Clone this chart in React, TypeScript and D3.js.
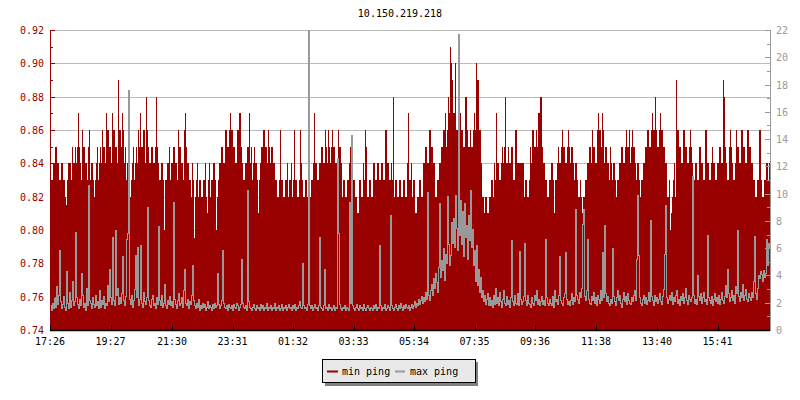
import React from "react";
import * as d3 from "d3";

const TITLE = "10.150.219.218";
const START_TIME = "17:26";
const STEP_MINUTES = 2;
const TOTAL_MINUTES = 1440;

const timeTickLabels = ["17:26", "19:27", "21:30", "23:31", "01:32", "03:33", "05:34", "07:35", "09:36", "11:38", "13:40", "15:41"];
const leftTicks = [0.74, 0.76, 0.78, 0.8, 0.82, 0.84, 0.86, 0.88, 0.9, 0.92];
const rightTicks = [0, 2, 4, 6, 8, 10, 12, 14, 16, 18, 20, 22];
const seriesNames = ["min ping", "max ping"];

const minPing = [
  0.84,0.83,0.83,0.84,0.84,0.85,0.85,0.84,0.84,0.83,0.83,0.84,0.84,0.83,0.83,0.82,0.815,0.83,0.84,0.84,
  0.84,0.83,0.85,0.84,0.84,0.85,0.84,0.85,0.87,0.85,0.84,0.83,0.86,0.85,0.85,0.84,0.84,0.83,0.85,0.86,
  0.83,0.84,0.84,0.83,0.82,0.83,0.84,0.85,0.83,0.84,0.85,0.84,0.86,0.85,0.85,0.84,0.87,0.86,0.86,0.85,
  0.85,0.84,0.87,0.86,0.86,0.85,0.85,0.84,0.89,0.86,0.86,0.85,0.87,0.86,0.84,0.85,0.83,0.84,0.84,0.83,
  0.82,0.83,0.84,0.85,0.83,0.84,0.85,0.84,0.86,0.85,0.87,0.85,0.85,0.86,0.86,0.84,0.88,0.86,0.85,0.84,
  0.84,0.85,0.85,0.84,0.84,0.85,0.88,0.85,0.84,0.83,0.83,0.84,0.84,0.83,0.8,0.83,0.83,0.84,0.84,0.85,
  0.83,0.84,0.84,0.85,0.85,0.84,0.84,0.83,0.86,0.85,0.85,0.84,0.84,0.83,0.86,0.87,0.85,0.84,0.84,0.83,
  0.83,0.82,0.84,0.83,0.795,0.82,0.83,0.84,0.82,0.83,0.83,0.82,0.82,0.83,0.83,0.84,0.82,0.81,0.83,0.84,
  0.82,0.83,0.83,0.84,0.84,0.83,0.8,0.82,0.83,0.84,0.84,0.85,0.85,0.84,0.84,0.86,0.86,0.85,0.85,0.86,
  0.87,0.86,0.86,0.85,0.85,0.84,0.84,0.86,0.86,0.87,0.87,0.85,0.84,0.83,0.83,0.84,0.84,0.85,0.85,0.87,
  0.84,0.85,0.83,0.84,0.85,0.84,0.84,0.83,0.81,0.83,0.84,0.85,0.85,0.86,0.86,0.85,0.85,0.84,0.86,0.85,
  0.84,0.85,0.85,0.84,0.84,0.83,0.83,0.82,0.82,0.83,0.86,0.83,0.83,0.82,0.82,0.83,0.83,0.84,0.82,0.83,
  0.83,0.84,0.82,0.83,0.86,0.83,0.83,0.82,0.82,0.83,0.86,0.84,0.83,0.82,0.82,0.83,0.83,0.82,0.84,0.83,
  0.82,0.83,0.83,0.84,0.87,0.84,0.84,0.83,0.83,0.84,0.84,0.85,0.85,0.84,0.84,0.86,0.85,0.84,0.86,0.85,
  0.84,0.85,0.86,0.85,0.85,0.84,0.84,0.83,0.86,0.85,0.85,0.84,0.82,0.83,0.83,0.82,0.82,0.83,0.83,0.84,
  0.85,0.83,0.82,0.83,0.83,0.82,0.82,0.81,0.81,0.83,0.83,0.82,0.82,0.84,0.83,0.86,0.85,0.82,0.82,0.83,
  0.83,0.82,0.82,0.84,0.84,0.83,0.83,0.84,0.84,0.83,0.83,0.84,0.84,0.83,0.83,0.86,0.86,0.84,0.84,0.83,
  0.83,0.84,0.83,0.88,0.82,0.83,0.83,0.82,0.82,0.83,0.83,0.82,0.82,0.83,0.83,0.82,0.82,0.84,0.87,0.83,
  0.83,0.84,0.82,0.83,0.83,0.81,0.81,0.82,0.82,0.83,0.83,0.82,0.82,0.84,0.84,0.85,0.85,0.84,0.84,0.86,
  0.86,0.85,0.85,0.84,0.84,0.82,0.82,0.83,0.83,0.84,0.84,0.85,0.85,0.86,0.86,0.87,0.85,0.86,0.88,0.87,
  0.91,0.9,0.89,0.87,0.87,0.9,0.86,0.86,0.88,0.87,0.87,0.86,0.86,0.85,0.85,0.88,0.88,0.86,0.85,0.85,
  0.86,0.85,0.85,0.86,0.87,0.86,0.9,0.89,0.89,0.86,0.86,0.84,0.82,0.82,0.81,0.82,0.82,0.81,0.81,0.82,
  0.82,0.83,0.83,0.82,0.84,0.83,0.87,0.84,0.84,0.83,0.83,0.84,0.85,0.84,0.85,0.88,0.84,0.84,0.85,0.84,
  0.84,0.85,0.85,0.83,0.83,0.86,0.86,0.84,0.84,0.84,0.84,0.84,0.84,0.84,0.82,0.83,0.83,0.82,0.82,0.83,
  0.85,0.84,0.86,0.86,0.85,0.85,0.86,0.85,0.87,0.87,0.88,0.88,0.85,0.84,0.84,0.83,0.83,0.82,0.82,0.83,
  0.83,0.84,0.84,0.83,0.81,0.83,0.83,0.84,0.85,0.84,0.84,0.85,0.86,0.85,0.85,0.84,0.84,0.85,0.86,0.85,
  0.84,0.85,0.85,0.84,0.83,0.84,0.84,0.83,0.82,0.82,0.83,0.82,0.81,0.82,0.82,0.83,0.83,0.84,0.84,0.85,
  0.85,0.84,0.86,0.85,0.85,0.84,0.84,0.86,0.87,0.86,0.86,0.85,0.87,0.86,0.84,0.85,0.85,0.84,0.84,0.83,
  0.85,0.84,0.83,0.84,0.84,0.83,0.82,0.83,0.83,0.84,0.84,0.85,0.85,0.84,0.84,0.85,0.86,0.85,0.85,0.86,
  0.84,0.85,0.86,0.85,0.85,0.84,0.83,0.84,0.84,0.83,0.82,0.83,0.83,0.84,0.84,0.85,0.85,0.86,0.86,0.85,
  0.85,0.86,0.87,0.86,0.86,0.88,0.86,0.85,0.85,0.86,0.87,0.86,0.86,0.85,0.85,0.84,0.84,0.82,0.82,0.83,
  0.8,0.81,0.82,0.83,0.84,0.82,0.89,0.86,0.86,0.85,0.85,0.84,0.84,0.86,0.86,0.85,0.85,0.84,0.84,0.85,
  0.86,0.85,0.84,0.83,0.83,0.84,0.84,0.83,0.83,0.85,0.85,0.84,0.84,0.83,0.83,0.86,0.86,0.84,0.84,0.83,
  0.83,0.84,0.85,0.84,0.84,0.83,0.83,0.84,0.84,0.85,0.85,0.84,0.84,0.89,0.88,0.85,0.84,0.83,0.83,0.85,
  0.86,0.85,0.84,0.83,0.83,0.84,0.86,0.85,0.85,0.84,0.84,0.86,0.86,0.85,0.85,0.84,0.84,0.86,0.86,0.85,
  0.85,0.84,0.84,0.83,0.83,0.82,0.82,0.83,0.83,0.86,0.86,0.83,0.82,0.82,0.83,0.83,0.84,0.84,0.83,0.84,
];

const maxPing = [
  1.8,1.5,2.0,1.6,2.4,1.7,3.2,1.9,2.6,5.9,2.1,1.6,1.9,2.5,1.7,1.5,4.3,2.0,1.6,2.8,
  1.7,2.2,3.6,1.8,2.1,7.2,2.4,1.9,1.6,2.3,1.8,4.2,2.6,1.7,2.0,1.5,3.1,1.8,10.6,2.2,
  2.0,1.6,2.4,1.9,1.7,2.6,1.8,2.1,1.6,2.9,1.7,2.2,1.9,2.5,1.6,2.0,1.8,3.3,2.1,4.5,
  2.4,1.9,6.8,2.2,1.8,7.3,2.6,3.1,1.9,2.4,2.0,2.7,5.4,2.2,1.8,2.5,6.7,7.1,17.6,2.3,
  1.9,2.6,1.7,2.2,3.0,5.5,2.4,6.1,1.8,2.3,6.2,2.0,1.7,2.8,2.1,1.9,2.4,9.0,2.2,1.8,
  1.7,2.3,2.6,1.8,2.0,1.6,2.4,1.9,7.6,2.2,1.8,2.6,1.7,2.0,3.4,1.8,1.6,2.2,1.9,2.5,
  1.8,2.1,1.7,9.4,2.3,1.9,1.6,2.2,2.7,1.8,2.0,2.4,1.7,2.9,4.5,2.0,1.8,2.3,1.6,2.1,
  1.9,2.6,4.8,2.2,1.8,1.6,2.0,1.7,2.3,1.5,1.8,1.6,2.0,1.7,1.9,1.5,1.7,2.1,1.6,1.8,
  1.7,1.5,1.9,1.6,2.0,1.7,1.8,4.2,1.9,1.6,1.8,2.2,5.9,2.0,1.7,1.6,1.8,1.5,1.9,1.7,
  1.6,1.8,1.5,1.9,1.7,1.6,2.0,1.8,1.5,1.7,1.9,5.2,2.0,1.7,1.6,1.8,1.5,10.3,2.1,1.7,
  1.6,1.5,1.7,1.9,1.6,1.5,1.8,1.6,1.7,1.5,1.9,1.6,1.8,1.5,1.7,1.6,2.0,1.5,1.7,1.6,
  1.8,1.5,1.7,1.6,2.0,1.5,1.7,1.6,1.8,1.5,1.6,1.9,1.5,1.7,1.6,1.8,1.5,1.7,1.9,1.6,
  1.7,1.5,1.8,1.6,1.9,1.5,1.7,1.6,1.8,2.1,1.7,1.6,4.9,1.8,1.6,1.7,1.5,1.9,23.0,1.8,
  1.6,1.8,1.5,1.7,1.9,1.6,1.7,1.5,1.8,6.8,1.7,1.6,1.5,1.8,4.5,1.6,1.7,1.5,1.9,1.6,
  1.7,1.5,1.6,1.8,1.5,1.7,1.6,12.6,7.1,1.9,1.6,1.5,1.7,1.6,1.8,1.5,1.7,1.6,1.5,9.4,
  2.0,14.3,1.8,1.6,1.5,1.7,1.9,1.6,1.5,1.8,1.6,1.7,1.5,1.9,1.6,1.5,1.7,1.8,1.6,1.5,
  1.7,1.6,1.5,1.8,1.6,1.9,1.5,1.7,1.6,6.2,1.8,1.5,1.7,1.6,1.9,1.5,1.6,1.8,1.7,1.5,
  8.4,1.8,1.6,1.5,1.7,1.9,1.6,1.5,1.8,1.6,2.0,1.7,1.5,1.8,1.6,1.9,1.7,1.6,1.8,1.5,
  1.7,1.9,1.6,1.8,2.1,1.7,2.0,1.8,2.3,1.9,2.2,2.5,2.0,2.4,2.1,2.8,2.3,10.1,2.6,2.2,
  2.9,3.4,2.6,3.8,3.1,4.2,3.5,2.8,4.6,9.3,3.9,5.1,4.4,6.0,3.7,5.6,4.9,9.8,6.3,4.8,
  5.5,7.9,6.4,8.2,6.1,9.9,7.5,5.9,21.7,7.0,9.5,6.3,8.7,5.4,9.3,6.8,7.7,5.2,8.4,6.6,
  10.3,6.1,7.4,4.8,5.9,3.6,6.2,3.3,4.5,2.8,3.9,2.4,2.9,2.1,2.6,1.9,2.3,2.7,1.8,2.4,
  1.8,2.2,1.7,2.6,1.9,3.1,2.0,2.4,1.8,2.8,2.1,1.7,2.3,2.9,2.0,1.8,2.5,1.9,2.2,1.7,
  2.4,6.6,2.1,1.8,2.6,2.0,1.9,2.7,1.8,5.8,2.3,1.9,2.1,2.5,6.4,2.2,1.8,2.6,2.0,1.9,
  1.7,2.4,2.0,1.8,2.6,2.2,2.9,1.9,2.3,1.8,2.1,2.5,1.9,2.2,1.8,6.7,2.4,2.0,1.8,2.3,
  2.0,1.8,2.5,1.7,2.9,2.1,2.3,1.9,2.6,5.4,2.2,2.0,1.8,2.4,2.7,5.7,2.3,1.9,2.1,1.8,
  2.2,2.7,1.9,2.4,2.1,8.9,2.6,2.3,2.0,2.8,2.4,3.1,7.8,8.9,2.5,2.2,2.9,6.7,2.3,2.0,
  1.9,2.5,2.2,2.8,2.0,2.4,1.8,2.6,2.3,2.0,2.9,2.2,5.7,2.4,7.7,2.7,2.1,2.5,2.0,1.8,
  2.3,2.0,6.0,2.5,2.1,1.8,2.4,2.9,2.2,2.6,2.0,1.7,2.3,2.8,2.1,2.5,1.9,2.7,2.2,2.0,
  1.9,2.4,2.1,2.6,2.9,2.2,5.2,9.9,5.5,2.4,2.0,1.8,2.3,2.6,2.0,2.4,1.9,2.2,2.8,2.1,
  8.1,2.5,2.2,1.8,2.6,2.1,2.4,2.0,2.3,2.7,2.1,1.9,2.5,3.0,5.6,9.2,2.4,2.0,2.3,2.6,
  2.2,2.8,1.9,2.4,2.1,2.6,2.9,2.0,2.3,1.8,2.5,2.2,2.7,2.0,2.4,3.1,2.2,1.9,2.6,2.3,
  2.1,2.4,11.3,2.6,2.0,2.3,1.9,4.0,2.5,2.2,2.7,2.0,2.4,2.8,2.1,2.3,1.9,7.0,2.4,2.2,
  2.0,2.5,1.8,2.3,2.7,2.1,2.4,2.0,2.6,1.9,2.3,2.8,2.2,2.0,2.5,3.3,2.4,4.5,2.7,2.1,
  2.4,2.9,2.2,2.6,2.0,3.2,2.7,7.3,2.5,2.1,2.8,2.4,3.4,2.2,2.6,3.0,2.3,2.1,2.7,2.4,
  2.2,2.8,2.4,3.6,6.9,2.7,2.3,3.1,4.0,3.8,4.3,4.1,3.6,4.4,3.9,4.2,6.7,4.8,6.4,6.1,
];

const RED = "#990000";
const GRAY = "#999999";
const FONT = "'DejaVu Sans Mono', monospace";

function toMinutes(label: string) {
  const [h, m] = label.split(":").map(Number);
  return h * 60 + m;
}

export default function App() {
  const W = 800, H = 400;
  const left = 50, right = 770, top = 30, bottom = 330;

  const start = toMinutes(START_TIME);
  const x = d3.scaleLinear().domain([0, TOTAL_MINUTES]).range([left, right]);
  const yL = d3.scaleLinear().domain([0.74, 0.92]).range([bottom, top]);
  const yR = d3.scaleLinear().domain([0, 22]).range([bottom, top]);

  const pts = minPing.map((v, i) => ({ t: i * STEP_MINUTES, min: v, max: maxPing[i] }));
  const last = pts[pts.length - 1];
  const ptsExt = [...pts, { t: TOTAL_MINUTES, min: last.min, max: last.max }];

  const area = d3.area<any>()
    .x((d) => x(d.t))
    .y0(bottom)
    .y1((d) => yL(d.min))
    .curve(d3.curveStepAfter);
  const line = d3.line<any>()
    .x((d) => x(d.t) + 0.5)
    .y((d) => Math.round(yR(d.max)) + 0.5)
    .curve(d3.curveStepAfter);

  const tickOffsets = timeTickLabels.map((l) => {
    let m = toMinutes(l) - start;
    if (m < 0) m += 1440;
    return m;
  });

  const minorLeft = d3.range(0.75, 0.92, 0.02);
  const minorRight = d3.range(1, 22, 2);

  return (
    <svg width={W} height={H} style={{ position: "absolute", left: 0, top: 0, background: "#fff" }}>
      <defs>
        <clipPath id="plot">
          <rect x={left} y={top} width={right - left} height={bottom - top} />
        </clipPath>
      </defs>
      <text x={400} y={17} textAnchor="middle" fontFamily={FONT} fontSize={10} fill="#000">{TITLE}</text>

      {leftTicks.filter((t) => t > 0.74).map((t) => (
        <line key={"g" + t} x1={left} x2={right} y1={Math.round(yL(t)) + 0.5} y2={Math.round(yL(t)) + 0.5} stroke="#bbbbbb" strokeWidth={1} />
      ))}

      <g clipPath="url(#plot)" shapeRendering="crispEdges">
        <path d={area(ptsExt) || ""} fill={RED} />
        <path d={line(ptsExt) || ""} fill="none" stroke={GRAY} strokeWidth={1} />
      </g>

      <line x1={left + 0.5} x2={left + 0.5} y1={top} y2={bottom} stroke={RED} />
      {leftTicks.map((t) => (
        <g key={"l" + t}>
          <line x1={left} x2={left + 5} y1={Math.round(yL(t)) + 0.5} y2={Math.round(yL(t)) + 0.5} stroke={RED} />
          <text x={44} y={yL(t) + 4} textAnchor="end" fontFamily={FONT} fontSize={10} fill={RED}>{t.toFixed(2)}</text>
        </g>
      ))}
      {minorLeft.map((t) => (
        <line key={"ml" + t} x1={left} x2={left + 3} y1={Math.round(yL(t)) + 0.5} y2={Math.round(yL(t)) + 0.5} stroke={RED} />
      ))}

      <line x1={right + 0.5} x2={right + 0.5} y1={top} y2={bottom} stroke={GRAY} />
      {rightTicks.map((t) => (
        <g key={"r" + t}>
          <line x1={right - 5} x2={right + 1} y1={Math.round(yR(t)) + 0.5} y2={Math.round(yR(t)) + 0.5} stroke={GRAY} />
          <text x={776} y={yR(t) + 4} textAnchor="start" fontFamily={FONT} fontSize={10} fill={GRAY}>{t}</text>
        </g>
      ))}
      {minorRight.map((t) => (
        <line key={"mr" + t} x1={right - 3} x2={right + 1} y1={Math.round(yR(t)) + 0.5} y2={Math.round(yR(t)) + 0.5} stroke={GRAY} />
      ))}

      <line x1={left} x2={right} y1={bottom + 0.5} y2={bottom + 0.5} stroke="#000" strokeWidth={1.5} />
      {tickOffsets.map((m, i) => (
        <g key={"x" + i}>
          <line x1={Math.round(x(m)) + 0.5} x2={Math.round(x(m)) + 0.5} y1={bottom - 5} y2={bottom} stroke="#000" />
          <text x={x(m)} y={345} textAnchor="middle" fontFamily={FONT} fontSize={10} fill="#000">{timeTickLabels[i]}</text>
        </g>
      ))}

      <rect x={325} y={362} width={153} height={24} fill="#808080" />
      <rect x={322.5} y={359.5} width={153} height={23} fill="#e8e8e8" stroke="#000" />
      <line x1={327} x2={338} y1={371.5} y2={371.5} stroke={RED} strokeWidth={2} />
      <text x={342} y={375} fontFamily={FONT} fontSize={10} fill="#000">{seriesNames[0]}</text>
      <line x1={395} x2={405} y1={371.5} y2={371.5} stroke={GRAY} strokeWidth={2} />
      <text x={410} y={375} fontFamily={FONT} fontSize={10} fill="#000">{seriesNames[1]}</text>
    </svg>
  );
}
